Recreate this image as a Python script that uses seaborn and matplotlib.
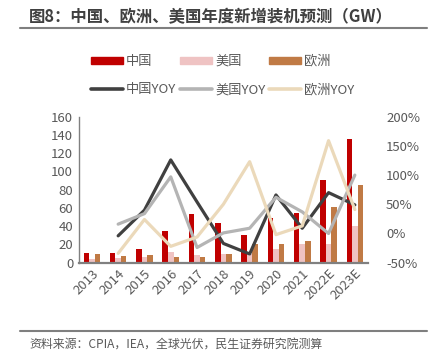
import numpy as np
import pandas as pd
import matplotlib
matplotlib.use("Agg")
import matplotlib.pyplot as plt
from matplotlib.lines import Line2D
from matplotlib.patches import Patch
import seaborn as sns

years = ["2013", "2014", "2015", "2016", "2017", "2018", "2019", "2020", "2021", "2022E", "2023E"]
china = [11, 10.6, 15.1, 34.5, 53, 44, 30, 48.5, 54, 90.5, 135.5]
usa = [4, 5, 6, 11.5, 8.5, 9, 10, 15.5, 20, 20, 40.5]
europe = [10, 6.8, 8.5, 6.3, 5.8, 10, 21, 21, 23.5, 60.5, 85]
china_yoy = [np.nan, -4, 40, 126, 54, -17, -35, 66, 9, 70, 49]
usa_yoy = [np.nan, 16, 34, 97, -24, 1, 9, 62, 37, 0, 100]
europe_yoy = [np.nan, -34, 24, -22, -6, 50, 123, -2, 13, 159, 41]
left_ticks = [0, 20, 40, 60, 80, 100, 120, 140, 160]
right_ticks = [-50, 0, 50, 100, 150, 200]

sns.set_theme(style="white")
plt.rcParams['font.family'] = ['Noto Sans CJK SC', 'DejaVu Sans']

bar_names = ["中国", "美国", "欧洲"]
bar_colors = ["#C00000", "#EFC3C3", "#C07A45"]
line_names = ["中国YOY", "美国YOY", "欧洲YOY"]
line_colors = ["#404040", "#B4B4B4", "#EBD9BA"]

bar_df = pd.DataFrame({
    "year": years * 3,
    "series": [bar_names[0]] * len(years) + [bar_names[1]] * len(years) + [bar_names[2]] * len(years),
    "value": china + usa + europe,
})
pos = list(range(len(years)))
line_df = pd.DataFrame({
    "pos": pos * 3,
    "series": [line_names[0]] * len(years) + [line_names[1]] * len(years) + [line_names[2]] * len(years),
    "value": china_yoy + usa_yoy + europe_yoy,
})

W, H = 434, 362
fig = plt.figure(figsize=(W / 100, H / 100), dpi=100)
ax = fig.add_axes([78.7 / W, 1 - 262.7 / H, (368 - 78.7) / W, 146 / H])

sns.barplot(data=bar_df, x="year", y="value", hue="series", hue_order=bar_names,
            palette=bar_colors, width=0.63, saturation=1, linewidth=0,
            ax=ax, legend=False)
ax.set_ylim(0, 160)
ax.set_yticks(left_ticks)
ax.set_xlabel("")
ax.set_ylabel("")

ax2 = ax.twinx()
sns.lineplot(data=line_df, x="pos", y="value", hue="series", hue_order=line_names,
             palette=line_colors, linewidth=2.3, ax=ax2, legend=False)
ax2.set_ylim(-50, 200)
ax2.set_yticks(right_ticks)
ax2.set_yticklabels([f"{v}%" for v in right_ticks])
ax2.set_xlabel("")
ax2.set_ylabel("")
ax.set_xlim(-0.5, len(years) - 0.5)
ax2.set_xlim(-0.5, len(years) - 0.5)

tick_color = "#595959"
ax.tick_params(axis="y", length=0, labelsize=9.5, labelcolor=tick_color, pad=4)
ax.tick_params(axis="x", length=0, labelsize=9.5, labelcolor=tick_color, pad=3)
ax2.tick_params(axis="y", length=0, labelsize=9.5, labelcolor=tick_color, pad=13)
ax.set_xticks(pos)
ax.set_xticklabels(years, rotation=45, ha="right", rotation_mode="anchor")

for a in (ax, ax2):
    for s in ("top", "right"):
        a.spines[s].set_visible(False)
ax2.spines["left"].set_visible(False)
ax2.spines["bottom"].set_visible(False)
ax.spines["left"].set_color("#808080")
ax.spines["left"].set_linewidth(1.0)
ax.spines["bottom"].set_color("#808080")
ax.spines["bottom"].set_linewidth(1.6)

handles = [
    Patch(color=bar_colors[0], label=bar_names[0]),
    Line2D([], [], color=line_colors[0], lw=2.6, label=line_names[0]),
    Patch(color=bar_colors[1], label=bar_names[1]),
    Line2D([], [], color=line_colors[1], lw=2.6, label=line_names[1]),
    Patch(color=bar_colors[2], label=bar_names[2]),
    Line2D([], [], color=line_colors[2], lw=2.6, label=line_names[2]),
]
leg = fig.legend(handles=handles, ncol=3, loc="upper left",
                 bbox_to_anchor=(91 / W, 1 - 55 / H), frameon=False,
                 fontsize=9.5, handlelength=2.4, handleheight=0.45,
                 handletextpad=0.25, columnspacing=0.3, labelspacing=1.15,
                 borderaxespad=0, borderpad=0)
for t in leg.get_texts():
    t.set_color(tick_color)

fig.text(29 / W, 1 - 17 / H, "图8：中国、欧洲、美国年度新增装机预测（GW）",
         fontsize=11.8, fontweight="bold", color="#404040", va="center", ha="left")
fig.add_artist(Line2D([20 / W, 427 / W], [1 - 28 / H] * 2, color="#7F7F7F", lw=1.5))
fig.add_artist(Line2D([20 / W, 427 / W], [1 - 331 / H] * 2, color="#7F7F7F", lw=1.5))
fig.text(29 / W, 1 - 344 / H, "资料来源：CPIA，IEA，全球光伏，民生证券研究院测算",
         fontsize=8.6, color="#595959", va="center", ha="left")

fig.savefig("out.png", dpi=100)
